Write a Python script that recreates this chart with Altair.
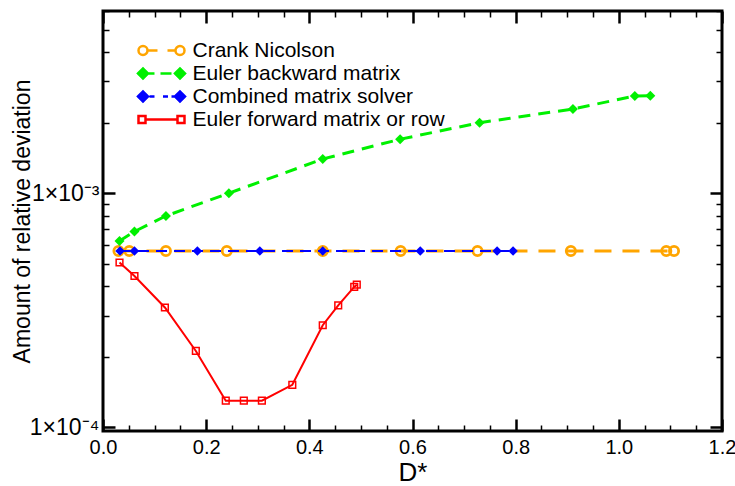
import altair as alt
import pandas as pd

FONT = "Liberation Sans"
W, H = 619, 420

# ---- data ---------------------------------------------------------------
series_names = [
    "Crank Nicolson",
    "Euler backward matrix",
    "Combined matrix solver",
    "Euler forward matrix or row",
]
series_colors = ["#ffa500", "#00f000", "#0000ff", "#ff0000"]

cn_x = [0.030, 0.051, 0.122, 0.240, 0.426, 0.577, 0.726, 0.907, 1.092, 1.107]
cn_y = [5.67e-4, 5.67e-4, 5.67e-4, 5.67e-4, 5.67e-4, 5.67e-4, 5.67e-4, 5.67e-4, 5.67e-4, 5.67e-4]

eb_x = [0.032, 0.061, 0.122, 0.244, 0.426, 0.576, 0.730, 0.911, 1.031, 1.061]
eb_y = [6.25e-4, 6.86e-4, 8.0e-4, 1.0e-3, 1.40e-3, 1.70e-3, 2.0e-3, 2.29e-3, 2.60e-3, 2.61e-3]

cm_x = [0.033, 0.061, 0.183, 0.304, 0.426, 0.615, 0.764, 0.795]
cm_y = [5.67e-4, 5.67e-4, 5.67e-4, 5.67e-4, 5.67e-4, 5.67e-4, 5.67e-4, 5.67e-4]

ef_x = [0.032, 0.061, 0.120, 0.180, 0.238, 0.273, 0.308, 0.367, 0.426, 0.456, 0.487, 0.492]
ef_y = [5.06e-4, 4.43e-4, 3.25e-4, 2.12e-4, 1.30e-4, 1.30e-4, 1.30e-4, 1.52e-4,
        2.73e-4, 3.32e-4, 3.98e-4, 4.07e-4]

x_major = [0.0, 0.2, 0.4, 0.6, 0.8, 1.0, 1.2]
x_minor = [0.05, 0.1, 0.15, 0.25, 0.3, 0.35, 0.45, 0.5, 0.55, 0.65, 0.7, 0.75,
           0.85, 0.9, 0.95, 1.05, 1.1, 1.15]
y_major = [1e-4, 1e-3]
y_major_labels = ["1×10⁻⁴", "1×10⁻³"]
y_minor = [2e-4, 3e-4, 4e-4, 5e-4, 6e-4, 7e-4, 8e-4, 9e-4,
           2e-3, 3e-3, 4e-3, 5e-3, 6e-3]

x_domain = [0.0, 1.2]
y_domain = [0.965e-4, 6e-3]


def frame(xs, ys):
    return pd.DataFrame({"D": xs, "dev": ys, "i": list(range(len(xs)))})


x_scale = alt.Scale(domain=x_domain, nice=False, zero=False)
y_scale = alt.Scale(type="log", domain=y_domain, nice=False)


# ---- axes: labelled axes plus inward-pointing major/minor ticks on all sides
def tick_axis(orient, values, size, width, offset):
    return alt.Axis(orient=orient, values=values, tickSize=size, tickWidth=width,
                    tickColor="black", labels=False, domain=False, grid=False,
                    title=None, offset=offset)


y_label_expr = " : ".join(
    f"datum.value < {v * 1.5} ? '{t}'" for v, t in zip(y_major[:-1], y_major_labels[:-1])
) + f" : '{y_major_labels[-1]}'"

x_label_axis = alt.Axis(orient="bottom", values=x_major, format=".1f", ticks=False,
                        domain=False, grid=False, labelFont=FONT, labelFontSize=20,
                        labelColor="black", labelPadding=6, labelFlush=False,
                        title="D*", titleFont=FONT, titleFontSize=26,
                        titleFontWeight="normal", titleColor="black", titlePadding=2)
y_label_axis = alt.Axis(orient="left", values=y_major, labelExpr=y_label_expr,
                        ticks=False, domain=False, grid=False, labelFont=FONT,
                        labelFontSize=23, labelColor="black", labelPadding=4,
                        title="Amount of relative deviation", titleFont=FONT,
                        titleFontSize=23, titleFontWeight="normal",
                        titleColor="black", titlePadding=-5)

axis_pairs = [
    (x_label_axis, y_label_axis),
    (tick_axis("top", x_major, 12, 2.5, -H), tick_axis("right", y_major, 12, 2.5, -W)),
    (tick_axis("top", x_minor, 6, 1.5, -H), tick_axis("right", y_minor, 6, 1.5, -W)),
    (tick_axis("bottom", x_major, 12, 2.5, -H), tick_axis("left", y_major, 12, 2.5, -W)),
    (tick_axis("bottom", x_minor, 6, 1.5, -H), tick_axis("left", y_minor, 6, 1.5, -W)),
]


def enc(chart, k):
    if k < len(axis_pairs):
        ax, ay = axis_pairs[k]
    else:
        ax, ay = None, None
    return chart.encode(
        x=alt.X("D:Q", scale=x_scale, axis=ax),
        y=alt.Y("dev:Q", scale=y_scale, axis=ay),
        order="i:Q",
    )


cn = frame(cn_x, cn_y)
eb = frame(eb_x, eb_y)
cm = frame(cm_x, cm_y)
ef = frame(ef_x, ef_y)

marks = [
    alt.Chart(cn).mark_line(color=series_colors[0], strokeWidth=3, strokeDash=[17, 11]),
    alt.Chart(cn).mark_point(shape="circle", filled=False, size=85, strokeWidth=2.8,
                             color=series_colors[0], opacity=1),
    alt.Chart(eb).mark_line(color=series_colors[1], strokeWidth=3, strokeDash=[12, 8]),
    alt.Chart(eb).mark_point(shape="diamond", filled=True, size=100,
                             color=series_colors[1], opacity=1),
    alt.Chart(cm).mark_line(color=series_colors[2], strokeWidth=2, strokeDash=[11, 7]),
    alt.Chart(cm).mark_point(shape="diamond", filled=True, size=90,
                             color=series_colors[2], opacity=1),
    alt.Chart(ef).mark_line(color=series_colors[3], strokeWidth=2),
    alt.Chart(ef).mark_point(shape="square", filled=False, size=45, strokeWidth=1.5,
                             color=series_colors[3], opacity=1),
]
layers = [enc(m, k) for k, m in enumerate(marks)]

# ---- legend: symbol = marker, line pattern, marker (custom SVG paths) ----
U = 6.0  # pixels per path unit: sqrt(symbolSize) / 2


def seg(a, b):
    return f"M{a / U:.3f},0L{b / U:.3f},0"


def circle(cx, r):
    a, b, rr = (cx - r) / U, (cx + r) / U, r / U
    return f"M{a:.3f},0A{rr:.3f},{rr:.3f} 0 1,0 {b:.3f},0A{rr:.3f},{rr:.3f} 0 1,0 {a:.3f},0Z"


def diamond(cx, r):
    return (f"M{(cx - r) / U:.3f},0L{cx / U:.3f},{-r / U:.3f}"
            f"L{(cx + r) / U:.3f},0L{cx / U:.3f},{r / U:.3f}Z")


def square(cx, r):
    return (f"M{(cx - r) / U:.3f},{-r / U:.3f}L{(cx + r) / U:.3f},{-r / U:.3f}"
            f"L{(cx + r) / U:.3f},{r / U:.3f}L{(cx - r) / U:.3f},{r / U:.3f}Z")


legend_paths = [
    circle(-18.5, 4.5) + seg(-14, -4) + seg(6, 14) + circle(18.5, 4.5),
    diamond(-18.5, 5) + seg(-13.5, -7) + seg(-1, 10) + diamond(18.5, 5),
    diamond(-18.5, 5) + seg(-12, -7) + seg(1.5, 6.5) + seg(10, 14) + diamond(18.5, 5),
    square(-19.5, 3.5) + seg(-16, 16) + square(19.5, 3.5),
]
legend_fills = ["white", series_colors[1], series_colors[2], "white"]

leg = alt.Legend(orient="none", legendX=48, legendY=29, title=None,
                 labelFont=FONT, labelFontSize=21, labelColor="black",
                 symbolSize=144, symbolStrokeWidth=2.5, labelOffset=20.5,
                 rowPadding=1, padding=0, labelLimit=400)

legend_layer = alt.Chart(pd.DataFrame({"series": series_names})).transform_filter(
    "false"
).mark_point(opacity=1).encode(
    shape=alt.Shape("series:N", scale=alt.Scale(domain=series_names, range=legend_paths),
                    legend=leg),
    stroke=alt.Stroke("series:N", scale=alt.Scale(domain=series_names, range=series_colors),
                      legend=leg),
    fill=alt.Fill("series:N", scale=alt.Scale(domain=series_names, range=legend_fills),
                  legend=leg),
)

chart = alt.layer(*layers, legend_layer).resolve_axis(
    x="independent", y="independent"
).properties(
    width=W, height=H,
    autosize=alt.AutoSizeParams(type="none"),
    padding={"left": 103, "top": 11, "right": 13, "bottom": 55},
    background="white",
).configure_view(stroke="black", strokeWidth=3)

chart.save("out.html", embed_options={"renderer": "svg", "actions": False})
